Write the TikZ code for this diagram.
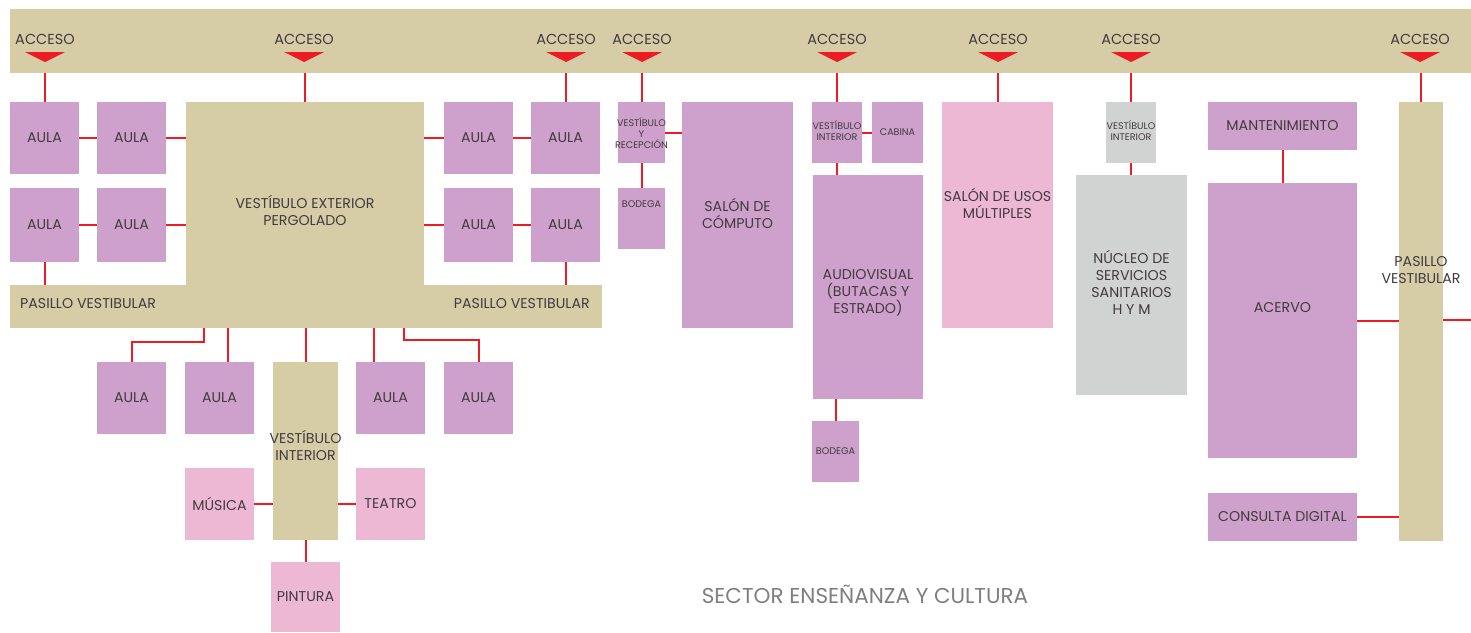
\documentclass[tikz,border=0pt]{standalone}
\usepackage{fontspec}
\setmainfont{Poppins}
\usetikzlibrary{calc}
\definecolor{beige}{HTML}{D6CDA7}
\definecolor{lila}{HTML}{CDA1CB}
\definecolor{rosa}{HTML}{EDB8D4}
\definecolor{gris}{HTML}{D1D3D2}
\definecolor{rojo}{HTML}{ED1C24}
\definecolor{tinta}{HTML}{433A3F}
\definecolor{titgris}{HTML}{7F7F7F}
\tikzset{
  box/.style={draw=none, inner sep=0pt, outer sep=0pt},
  norm/.style={text=tinta, align=center, inner sep=0pt, font=\fontsize{14.2}{17}\selectfont},
  small/.style={text=tinta, align=center, inner sep=0pt, font=\fontsize{9.6}{11}\selectfont},
  acc/.style={text=tinta, inner sep=0pt, font=\fontsize{14.5}{16}\selectfont},
  title/.style={text=titgris, inner sep=0pt, font=\fontsize{21.5}{24}\selectfont},
  link/.style={draw=rojo, line width=2pt},
}
% name, x1, y1, x2, y2, fill, text style, dy, text
\newcommand\roombox[9]{%
  \node[box,fill=#6,minimum width={(#4)-(#2)},minimum height={(#5)-(#3)}] (#1) at ({((#2)+(#4))/2},{((#3)+(#5))/2}) {};
  \node[#7] (#1-t) at ($(#1.center)+(0,#8)$) {#9};
}
\newcommand\acceso[2]{%
  \node[acc] (#1) at (#2,39) {ACCESO};
  \fill[rojo] (#2-20,52) -- (#2+20,52) -- (#2,62) -- cycle;
}
\begin{document}
\begin{tikzpicture}[x=1pt,y=-1pt]
\useasboundingbox (0,0) rectangle (1471,632);
\fill[white] (0,0) rectangle (1471,632);
% top band
\node[box,fill=beige,minimum width=1461,minimum height=64] (band) at (740.5,41) {};
\acceso{acc1}{45}
\acceso{acc2}{304}
\acceso{acc3}{566}
\acceso{acc4}{642}
\acceso{acc5}{837}
\acceso{acc6}{998}
\acceso{acc7}{1131}
\acceso{acc8}{1420}
% left group
\roombox{a1}{10}{102}{79}{174}{lila}{norm}{0}{AULA}
\roombox{a2}{97}{102}{166}{174}{lila}{norm}{0}{AULA}
\roombox{a3}{10}{188}{79}{262}{lila}{norm}{0}{AULA}
\roombox{a4}{97}{188}{166}{262}{lila}{norm}{0}{AULA}
\roombox{a5}{444}{102}{513}{174}{lila}{norm}{0}{AULA}
\roombox{a6}{531}{102}{600}{174}{lila}{norm}{0}{AULA}
\roombox{a7}{444}{188}{513}{262}{lila}{norm}{0}{AULA}
\roombox{a8}{531}{188}{600}{262}{lila}{norm}{0}{AULA}
\roombox{vext}{186}{102}{424}{286}{beige}{norm}{16}{VESTÍBULO EXTERIOR\\PERGOLADO}
\node[box,fill=beige,minimum width=592,minimum height=43] (pas) at (306,306.5) {};
\node[norm,anchor=west] (pasL) at (20,304) {PASILLO VESTIBULAR};
\node[norm,anchor=east] (pasR) at (590,304) {PASILLO VESTIBULAR};
% bottom group
\roombox{b1}{97}{362}{166}{434}{lila}{norm}{0}{AULA}
\roombox{b2}{185}{362}{254}{434}{lila}{norm}{0}{AULA}
\roombox{vint}{273}{362}{338}{540}{beige}{norm}{-6}{VESTÍBULO\\INTERIOR}
\roombox{b3}{356}{362}{425}{434}{lila}{norm}{0}{AULA}
\roombox{b4}{444}{362}{513}{434}{lila}{norm}{0}{AULA}
\roombox{mus}{185}{468}{254}{540}{rosa}{norm}{0}{MÚSICA}
\roombox{tea}{356}{468}{425}{540}{rosa}{norm}{0}{TEATRO}
\roombox{pin}{271}{562}{340}{632}{rosa}{norm}{0}{PINTURA}
% middle
\roombox{vr}{618}{102}{665}{163}{lila}{small}{1}{VESTÍBULO\\Y\\RECEPCIÓN}
\roombox{bod1}{618}{188}{665}{249}{lila}{small}{-14}{BODEGA}
\roombox{comp}{682}{102}{793}{328}{lila}{norm}{-2}{SALÓN DE\\CÓMPUTO}
\roombox{vav}{812}{102}{862}{163}{lila}{small}{-2}{VESTÍBULO\\INTERIOR}
\roombox{cab}{872}{102}{923}{163}{lila}{small}{0}{CABINA}
\roombox{av}{813}{175}{923}{399}{lila}{norm}{6}{AUDIOVISUAL\\(BUTACAS Y\\ESTRADO)}
\roombox{bod2}{812}{421}{859}{482}{lila}{small}{0}{BODEGA}
\roombox{sum}{942}{102}{1053}{328}{rosa}{norm}{-12}{SALÓN DE USOS\\MÚLTIPLES}
\roombox{vgr}{1106}{102}{1156}{163}{gris}{small}{-2}{VESTÍBULO\\INTERIOR}
\roombox{nuc}{1076}{175}{1187}{395}{gris}{norm}{-3}{NÚCLEO DE\\SERVICIOS\\SANITARIOS\\H Y M}
\roombox{man}{1208}{102}{1357}{150}{lila}{norm}{0}{MANTENIMIENTO}
\roombox{ace}{1208}{183}{1357}{458}{lila}{norm}{-13}{ACERVO}
\roombox{con}{1208}{493}{1357}{541}{lila}{norm}{0}{CONSULTA DIGITAL}
\roombox{pv}{1399}{102}{1443}{541}{beige}{norm}{-51}{PASILLO\\VESTIBULAR}
\node[title] (title) at (865,594) {SECTOR ENSEÑANZA Y CULTURA};
% connectors: accesses
\draw[link] (a1.north) -- (a1.north |- band.south);
\draw[link] (vext.north) -- (vext.north |- band.south);
\draw[link] (a6.north) -- (a6.north |- band.south);
\draw[link] (vr.north) -- (vr.north |- band.south);
\draw[link] (vav.north) -- (vav.north |- band.south);
\draw[link] (sum.north) -- (sum.north |- band.south);
\draw[link] (vgr.north) -- (vgr.north |- band.south);
\draw[link] (pv.north) -- (pv.north |- band.south);
% left group
\draw[link] (a1.east) -- (a2.west);
\draw[link] (a2.east) -- (a2.east -| vext.west);
\draw[link] (a3.east) -- (a4.west);
\draw[link] (a4.east) -- (a4.east -| vext.west);
\draw[link] (a5.west) -- (a5.west -| vext.east);
\draw[link] (a5.east) -- (a6.west);
\draw[link] (a7.west) -- (a7.west -| vext.east);
\draw[link] (a7.east) -- (a8.west);
\draw[link] (a3.south) -- (a3.south |- pas.north);
\draw[link] (a8.south) -- (a8.south |- pas.north);
% bottom group
\coordinate (p1) at ([xshift=-102pt]pas.south);
\coordinate (p2) at ([xshift=8.5pt]b2.north);
\coordinate (p3) at ([xshift=-16.5pt]b3.north);
\coordinate (p4) at ([xshift=98pt]pas.south);
\draw[link] (p1) -- ++(0,14) -| (b1.north);
\draw[link] (p2) -- (p2 |- pas.south);
\draw[link] (vint.north) -- (vint.north |- pas.south);
\draw[link] (p3) -- (p3 |- pas.south);
\draw[link] (p4) -- ++(0,12) -| (b4.north);
\draw[link] (mus.east) -- (mus.east -| vint.west);
\draw[link] (tea.west) -- (tea.west -| vint.east);
\draw[link] (vint.south) -- (pin.north);
% middle
\draw[link] (vr.east) -- (vr.east -| comp.west);
\draw[link] (vr.south) -- (bod1.north);
\draw[link] (vav.east) -- (cab.west);
\draw[link] (vav.south) -- (vav.south |- av.north);
\draw[link] (bod2.north) -- (bod2.north |- av.south);
\draw[link] (vgr.south) -- (vgr.south |- nuc.north);
\draw[link] (man.south) -- (ace.north);
\draw[link] (ace.east) -- (ace.east -| pv.west);
\coordinate (out) at (1471,320);
\draw[link] (pv.east |- out) -- (out);
\draw[link] (con.east) -- (con.east -| pv.west);
\end{tikzpicture}
\end{document}
